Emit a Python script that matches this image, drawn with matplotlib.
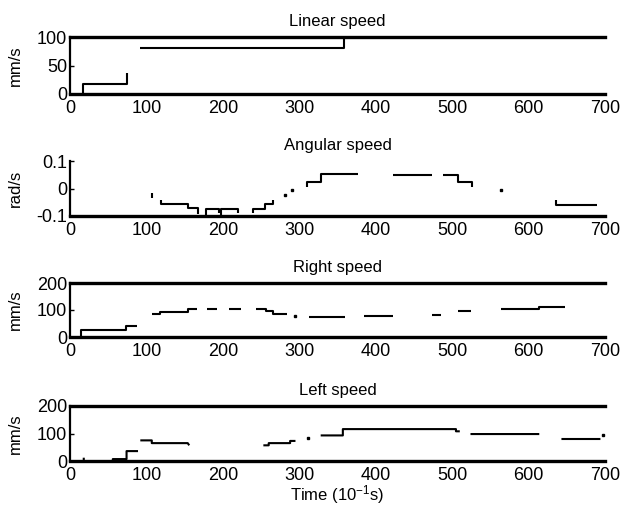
import numpy as np
import matplotlib
matplotlib.use("Agg")
import matplotlib.pyplot as plt
from matplotlib.ticker import FixedLocator

plt.rcParams['font.family'] = ['Liberation Sans', 'DejaVu Sans']
plt.rcParams['mathtext.fontset'] = 'custom'
plt.rcParams['mathtext.rm'] = 'Liberation Sans'
plt.rcParams['mathtext.it'] = 'Liberation Sans'

nan = np.nan

# ---- data (NaN separates segments) ----
lin_x = [17, 17, 74, 74, nan, 92, 358, 358]
lin_y = [0, 18, 18, 37, nan, 80, 80, 100]

ang_x = [107, 107, nan,
         119, 119, 154, 154, 167, 167, nan,
         178, 178, 195, 195, nan,
         198, 198, 220, 220, nan,
         240, 240, 255, 255, 266, 266, nan,
         310, 310, 328, 328, 377, nan,
         423, 474, nan,
         488, 508, 508, 526, 526, nan,
         636, 636, 690]
ang_y = [-0.018, -0.033, nan,
         -0.042, -0.056, -0.056, -0.070, -0.070, -0.094, nan,
         -0.095, -0.075, -0.075, -0.088, nan,
         -0.095, -0.075, -0.075, -0.088, nan,
         -0.090, -0.076, -0.076, -0.058, -0.058, -0.040, nan,
         0.007, 0.025, 0.025, 0.051, 0.051, nan,
         0.049, 0.049, nan,
         0.049, 0.049, 0.025, 0.025, 0.007, nan,
         -0.041, -0.061, -0.061]
ang_dot_x = [281, 291, 564]
ang_dot_y = [-0.024, -0.005, -0.005]

right_x = [15, 15, 73, 73, 88, nan,
           107, 118, 118, 154, 154, 166, nan,
           179, 192, nan,
           208, 224, nan,
           244, 257, 257, 266, 266, 284, nan,
           313, 360, nan,
           385, 422, nan,
           474, 486, nan,
           508, 525, nan,
           564, 613, 613, 648]
right_y = [0, 27, 27, 40, 40, nan,
           85, 85, 91, 91, 103, 103, nan,
           103, 103, nan,
           103, 103, nan,
           103, 103, 96, 96, 87, 87, nan,
           74, 74, nan,
           78, 78, nan,
           80, 80, nan,
           95, 95, nan,
           104, 104, 110, 110]
right_dot_x = [295]
right_dot_y = [78]

left_x = [18, 18, nan,
          56, 56, 74, 74, 89, nan,
          92, 107, 107, 154, 156, nan,
          253, 260, 260, 288, 288, 295, nan,
          328, 357, 357, 505, 505, 510, nan,
          524, 614, nan,
          643, 694]
left_y = [0, 12, nan,
          0, 7, 7, 36, 36, nan,
          75, 75, 65, 65, 57, nan,
          57, 57, 65, 65, 73, 73, nan,
          93, 93, 116, 116, 108, 108, nan,
          98, 98, nan,
          80, 80]
left_dot_x = [311, 698]
left_dot_y = [85, 96]

x_ticks = [0, 100, 200, 300, 400, 500, 600, 700]
titles = ["Linear speed", "Angular speed", "Right speed", "Left speed"]
ylabels = ["mm/s", "rad/s", "mm/s", "mm/s"]
ylims = [(0, 100), (-0.1, 0.1), (0, 200), (0, 200)]
yticks = [[0, 50, 100], [-0.1, 0, 0.1], [0, 100, 200], [0, 100, 200]]
yticklabels = [["0", "50", "100"], ["-0.1", "0", "0.1"],
               ["0", "100", "200"], ["0", "100", "200"]]

W, H = 635, 513
fig = plt.figure(figsize=(W / 100, H / 100), dpi=100)
x0_px, x1_px = 70, 605
panels_px = [(37, 94), (161, 216), (283, 337), (406, 461)]
fs = 13
fs_title = 12

series = [
    (lin_x, lin_y, [], []),
    (ang_x, ang_y, ang_dot_x, ang_dot_y),
    (right_x, right_y, right_dot_x, right_dot_y),
    (left_x, left_y, left_dot_x, left_dot_y),
]

for i in range(4):
    top, bot = panels_px[i]
    ax = fig.add_axes([x0_px / W, 1 - bot / H, (x1_px - x0_px) / W, (bot - top) / H])
    x, y, dx, dy = series[i]
    ax.plot(x, y, color='black', lw=1.5, solid_capstyle='butt')
    if dx:
        ax.plot(dx, dy, 's', color='black', ms=1.8)
    ax.set_xlim(0, 700)
    ax.set_ylim(*ylims[i])
    ax.set_xticks(x_ticks)
    ax.set_xticklabels([str(t) for t in x_ticks], fontsize=fs)
    ax.set_yticks(yticks[i])
    ax.set_yticklabels(yticklabels[i], fontsize=fs)
    ax.xaxis.set_minor_locator(FixedLocator([200, 500]))
    ax.tick_params(axis='x', which='major', length=0, pad=4)
    ax.tick_params(axis='x', which='minor', direction='in', length=4,
                   width=1.6, top=True, bottom=True)
    ax.tick_params(axis='y', which='major', direction='in', length=3,
                   width=1, pad=2)
    ax.spines['right'].set_visible(False)
    ax.spines['left'].set_linewidth(1.6)
    ax.spines['bottom'].set_linewidth(2.4)
    ax.spines['top'].set_linewidth(2.4)
    if i == 1:
        ax.spines['top'].set_visible(False)
    ax.set_title(titles[i], fontsize=fs_title, pad=8)
    ax.set_ylabel(ylabels[i], fontsize=fs_title)
    ax.yaxis.set_label_coords(-0.088, 0.5)
    ax.patch.set_alpha(0)
    if i == 3:
        ax.set_xlabel("Time (10$^{-1}$s)", fontsize=fs_title, labelpad=0)

fig.savefig("out.png", dpi=100, facecolor='white')
